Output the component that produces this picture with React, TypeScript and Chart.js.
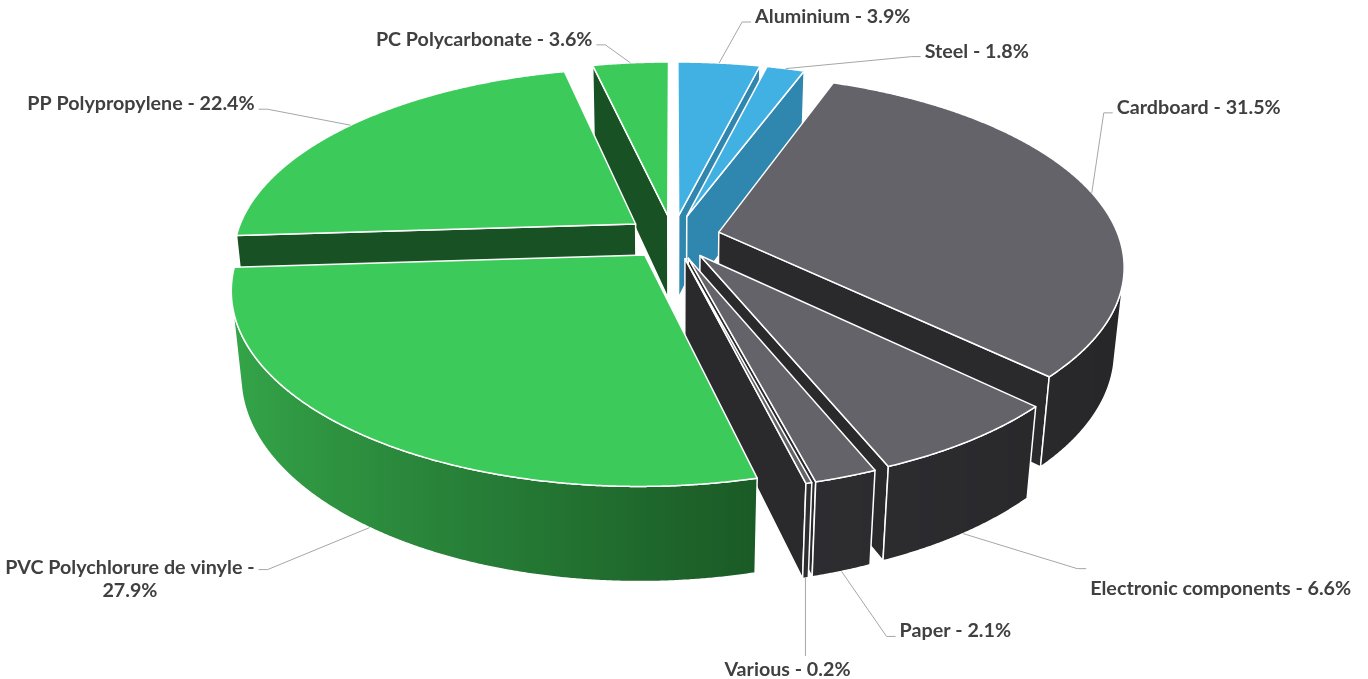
import React, { useEffect, useRef } from 'react';
import { Chart, registerables } from 'chart.js';

Chart.register(...registerables);

// ---------- data ----------
const categories = [
  'Aluminium',
  'Steel',
  'Cardboard',
  'Electronic components',
  'Paper',
  'Various',
  'PVC Polychlorure de vinyle',
  'PP Polypropylene',
  'PC Polycarbonate',
];
const shares = [3.9, 1.8, 31.5, 6.6, 2.1, 0.2, 27.9, 22.4, 3.6];
const families = ['metal', 'metal', 'fibre', 'fibre', 'fibre', 'fibre', 'plastic', 'plastic', 'plastic'];

// ---------- styles ----------
const PALETTE: Record<string, { top: string; face: string; light: number[]; dark: number[] }> = {
  metal: { top: '#41B1E3', face: '#2F86AE', light: [60, 150, 195], dark: [35, 110, 145] },
  fibre: { top: '#636369', face: '#2A2A2D', light: [58, 58, 62], dark: [38, 38, 41] },
  plastic: { top: '#3CCB5A', face: '#185224', light: [53, 168, 74], dark: [10, 42, 16] },
};

// 3D view parameters (in units of the pie radius)
const TILT = (27.7 * Math.PI) / 180;
const VIEW_DIST = 5.284;
const HALF_WIDTH = 400; // px per radius unit at the pie centre
const DEPTH = 0.24;
const EXPLODE = 0.118;

// label placement: elbow offset from the leader start
const LABEL_LAYOUT = [
  { dx: 23, dy: -41, side: 'right', below: false },
  { dx: 126, dy: -12, side: 'right', below: false },
  { dx: 12, dy: -80, side: 'right', below: false },
  { dx: 114, dy: 35, side: 'right', below: true },
  { dx: 45, dy: 65, side: 'right', below: false },
  { dx: 0, dy: 78, side: 'below', below: false },
  { dx: -102, dy: 42, side: 'left', below: false },
  { dx: -83, dy: -16, side: 'left', below: false },
  { dx: -25, dy: -18, side: 'left', below: false },
];
const LABEL_FONT = 'bold 19.7px Lato';
const LABEL_COLOR = '#404040';
const LEADER_COLOR = '#A6A6A6';
const LABEL_MAX_WIDTH = 270;

type Pt = [number, number];

const pie3d = {
  id: 'pie3d',
  beforeDatasetsDraw(chart: any) {
    const meta = chart.getDatasetMeta(0);
    const arcs = meta.data;
    if (!arcs || !arcs.length) return false;
    const ctx: CanvasRenderingContext2D = chart.ctx;
    const cx = arcs[0].x;
    const cy = arcs[0].y;
    const sa = Math.sin(TILT);
    const ca = Math.cos(TILT);
    const F = HALF_WIDTH * VIEW_DIST;
    const camH = VIEW_DIST * sa;
    const camV = VIEW_DIST * ca;
    const P = (u: number, h: number, v: number): Pt => {
      const d = VIEW_DIST - h * sa - v * ca;
      return [cx + (F * u) / d, cy - (F * (h * ca - v * sa)) / d];
    };
    const dist = (u: number, h: number, v: number) =>
      Math.sqrt(u * u + (h - camH) * (h - camH) + (v - camV) * (v - camV));

    const faces: any[] = [];
    const walls: any[] = [];
    const tops: any[] = [];

    arcs.forEach((arc: any, i: number) => {
      const s = arc.startAngle;
      const e = arc.endAngle;
      const fam = PALETTE[families[i]];
      const mid = (s + e) / 2;
      const ox = EXPLODE * Math.cos(mid);
      const ov = EXPLODE * Math.sin(mid);
      const steps = Math.max(2, Math.ceil((e - s) / ((0.25 * Math.PI) / 180)));
      const thetas: number[] = [];
      for (let k = 0; k <= steps; k++) thetas.push(s + ((e - s) * k) / steps);

      // top face
      const topPts: Pt[] = [P(ox, 0, ov)];
      thetas.forEach((t) => topPts.push(P(ox + Math.cos(t), 0, ov + Math.sin(t))));
      tops.push({ pts: topPts, fill: fam.top, d: dist(ox, 0, ov) });

      // radial faces
      const addFace = (a: number, nu: number, nv: number) => {
        const vis = nu * -ox + nv * (camV - ov) > 0;
        if (!vis) return;
        const ru = ox + Math.cos(a);
        const rv = ov + Math.sin(a);
        faces.push({
          pts: [P(ox, 0, ov), P(ru, 0, rv), P(ru, -DEPTH, rv), P(ox, -DEPTH, ov)],
          fill: fam.face,
          d: dist(ox + 0.5 * Math.cos(a), -DEPTH / 2, ov + 0.5 * Math.sin(a)),
        });
      };
      addFace(s, Math.sin(s), -Math.cos(s));
      addFace(e, -Math.sin(e), Math.cos(e));

      // outer wall (visible runs)
      const segVis = (t: number) => {
        const c = Math.cos(t);
        const sn = Math.sin(t);
        return c * (-ox - c) + sn * (camV - ov - sn) > 0;
      };
      let run: number[] = [];
      const runs: number[][] = [];
      for (let k = 0; k < steps; k++) {
        const tm = (thetas[k] + thetas[k + 1]) / 2;
        if (segVis(tm)) {
          if (!run.length) run.push(k);
          run.push(k + 1);
        } else if (run.length) {
          runs.push(run);
          run = [];
        }
      }
      if (run.length) runs.push(run);
      runs.forEach((r) => {
        const topR: Pt[] = [];
        const botR: Pt[] = [];
        const angs: number[] = [];
        r.forEach((k) => {
          const t = thetas[k];
          const u = ox + Math.cos(t);
          const v = ov + Math.sin(t);
          topR.push(P(u, 0, v));
          botR.push(P(u, -DEPTH, v));
          angs.push(t);
        });
        const pts = topR.concat(botR.slice().reverse());
        const xs = topR.map((p) => p[0]);
        const x0 = Math.min(...xs);
        const x1 = Math.max(...xs);
        const grad = ctx.createLinearGradient(x0, 0, x1 + 0.001, 0);
        const every = Math.max(1, Math.floor(angs.length / 40));
        angs.forEach((t, j) => {
          if (j % every !== 0 && j !== angs.length - 1) return;
          const f = (1 - Math.cos(t)) / 2;
          const col = fam.dark.map((dv, q) => Math.round(dv + (fam.light[q] - dv) * f));
          const off = x1 > x0 ? (xs[j] - x0) / (x1 - x0) : 0;
          grad.addColorStop(Math.min(1, Math.max(0, off)), `rgb(${col[0]},${col[1]},${col[2]})`);
        });
        const tm = angs[Math.floor(angs.length / 2)];
        walls.push({ pts, fill: grad, d: dist(ox + Math.cos(tm), -DEPTH / 2, ov + Math.sin(tm)) });
      });
    });

    const drawPoly = (f: any) => {
      ctx.beginPath();
      ctx.moveTo(f.pts[0][0], f.pts[0][1]);
      for (let k = 1; k < f.pts.length; k++) ctx.lineTo(f.pts[k][0], f.pts[k][1]);
      ctx.closePath();
      ctx.fillStyle = f.fill;
      ctx.fill();
      ctx.strokeStyle = '#FFFFFF';
      ctx.lineWidth = 1.5;
      ctx.lineJoin = 'round';
      ctx.stroke();
    };

    ctx.save();
    faces.sort((a, b) => b.d - a.d).forEach(drawPoly);
    walls.sort((a, b) => b.d - a.d).forEach(drawPoly);
    tops.sort((a, b) => b.d - a.d).forEach(drawPoly);

    // ---------- labels ----------
    ctx.font = LABEL_FONT;
    arcs.forEach((arc: any, i: number) => {
      const mid = (arc.startAngle + arc.endAngle) / 2;
      const rr = 1 + EXPLODE;
      const front = Math.sin(mid) > 0;
      const start = P(rr * Math.cos(mid), front ? -DEPTH : 0, rr * Math.sin(mid));
      const lay = LABEL_LAYOUT[i];
      const elbow: Pt = [start[0] + lay.dx, start[1] + lay.dy];
      const text = `${categories[i]} - ${shares[i].toFixed(1)}%`;

      // wrap
      const words = text.split(' ');
      const lines: string[] = [];
      let cur = '';
      words.forEach((w) => {
        const test = cur ? cur + ' ' + w : w;
        if (cur && ctx.measureText(test).width > LABEL_MAX_WIDTH) {
          lines.push(cur);
          cur = w;
        } else cur = test;
      });
      if (cur) lines.push(cur);

      ctx.strokeStyle = LEADER_COLOR;
      ctx.lineWidth = 1;
      ctx.beginPath();
      ctx.moveTo(start[0], start[1]);
      ctx.lineTo(elbow[0], elbow[1]);
      let end: Pt = elbow;
      if (lay.side === 'right') end = [elbow[0] + 9, elbow[1]];
      if (lay.side === 'left') end = [elbow[0] - 9, elbow[1]];
      ctx.lineTo(end[0], end[1]);
      ctx.stroke();

      ctx.fillStyle = LABEL_COLOR;
      ctx.textBaseline = 'alphabetic';
      const lh = 23.5;
      const widths = lines.map((l) => ctx.measureText(l).width);
      const maxW = Math.max(...widths);
      let base = end[1] + 1 + (lines.length - 1) * 3;
      if (lay.below) base = end[1] + 26;
      if (lay.side === 'below') base = end[1] + 20;
      let centre: number;
      if (lay.side === 'right') centre = end[0] + 4 + maxW / 2;
      else if (lay.side === 'left') centre = end[0] - 4 - maxW / 2;
      else centre = end[0] - 18;
      ctx.textAlign = 'center';
      lines.forEach((l, j) => {
        ctx.fillText(l, centre, base + j * lh);
      });
    });
    ctx.restore();
    return false;
  },
};

export default function App() {
  const ref = useRef<HTMLCanvasElement | null>(null);
  useEffect(() => {
    document.body.style.margin = '0';
    const canvas = ref.current;
    if (!canvas) return;
    const chart = new Chart(canvas, {
      type: 'pie',
      data: {
        labels: categories,
        datasets: [
          {
            data: shares,
            backgroundColor: families.map((f) => PALETTE[f].top),
            borderWidth: 0,
            hoverOffset: 0,
            clip: false,
          } as any,
        ],
      },
      options: {
        responsive: false,
        animation: false,
        events: [],
        layout: { padding: { left: 0, right: 22, top: 0, bottom: 205 } },
        plugins: { legend: { display: false }, tooltip: { enabled: false } },
      },
      plugins: [pie3d as any],
    });
    return () => chart.destroy();
  }, []);
  return (
    <div style={{ width: 1368, height: 679, position: 'relative', background: '#fff' }}>
      <canvas ref={ref} width={1368} height={679} style={{ width: 1368, height: 679, display: 'block' }} />
    </div>
  );
}
